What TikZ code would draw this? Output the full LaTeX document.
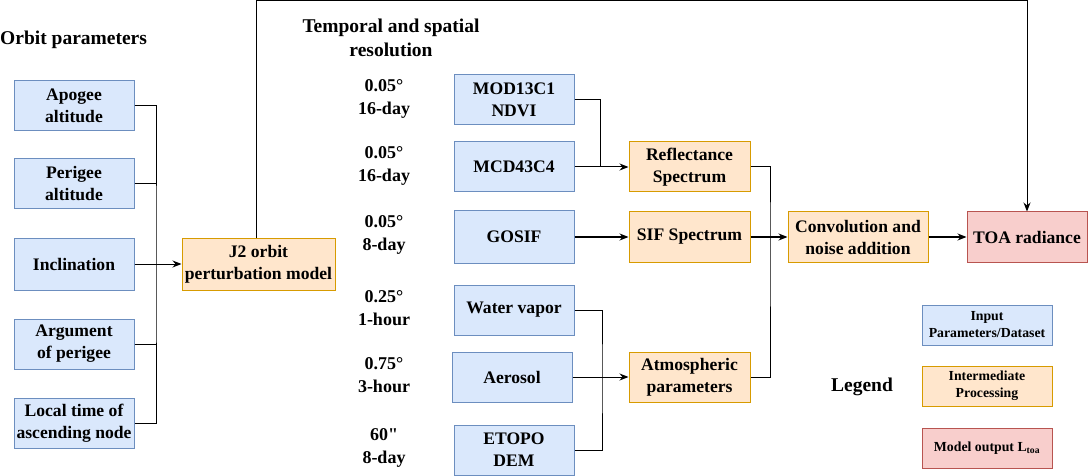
\documentclass[tikz,border=0pt]{standalone}
\usepackage{fontspec}
\setmainfont{Liberation Serif}[BoldFont={Liberation Serif Bold}]
\usetikzlibrary{arrows.meta,positioning}

\definecolor{inFill}{HTML}{DAE8FC}
\definecolor{inLine}{HTML}{6C8EBF}
\definecolor{midFill}{HTML}{FFE6CC}
\definecolor{midLine}{HTML}{D79B00}
\definecolor{outFill}{HTML}{F8CECC}
\definecolor{outLine}{HTML}{B85450}

\tikzset{
  base/.style={rectangle, draw, line width=1pt, align=center, inner sep=0pt,
               font=\rmfamily\bfseries\fontsize{17.6}{22}\selectfont},
  inbox/.style={base, fill=inFill, draw=inLine, minimum width=120pt, minimum height=50pt},
  midbox/.style={base, fill=midFill, draw=midLine, minimum height=50pt},
  outbox/.style={base, fill=outFill, draw=outLine, minimum height=50pt},
  reso/.style={align=center, font=\rmfamily\bfseries\fontsize{18}{23}\selectfont},
  heading/.style={inner sep=0pt, align=center, font=\rmfamily\bfseries\fontsize{19.5}{24}\selectfont},
  legbox/.style={rectangle, draw, line width=1pt, align=center, inner sep=0pt,
                 minimum width=130pt, minimum height=40pt,
                 font=\rmfamily\bfseries\fontsize{13.8}{17}\selectfont},
  link/.style={draw=black, line width=1pt},
  go/.style={link, -{Stealth[length=9pt,width=7pt]}}
}

\begin{document}
\begin{tikzpicture}[x=1pt, y=-1pt]
  \useasboundingbox (0,0) rectangle (1088,476);

  % orbit parameters
  \node [heading, anchor=west] (otitle) at (0,40) {Orbit parameters};
  \node [inbox] (apo)  at (74,106) {Apogee\\altitude};
  \node [inbox] (peri) at (74,184) {Perigee\\altitude};
  \node [inbox, minimum height=52pt] (incl) at (74,264) {Inclination};
  \node [inbox] (arg)  at (74,344) {Argument\\of perigee};
  \node [inbox] (loc)  at (74,423) {Local time of\\ascending node};
  \node [midbox, minimum width=153pt, minimum height=52pt] (jtwo) at (258.5,264) {J2 orbit\\perturbation model};

  \coordinate (bus) at (156,264);
  \draw [link] (apo.east) -| (bus) |- (loc.east);
  \draw [link] (peri.east) -- (peri.east -| bus);
  \draw [link] (arg.east) -- (arg.east -| bus);
  \draw [go] (incl.east) -- (jtwo.west);

  % datasets
  \node [heading] (ttitle) at (391,38) {Temporal and spatial\\resolution};
  \node [reso] (r1) at (384,99)  {0.05°\\16-day};
  \node [reso] (r2) at (384,166) {0.05°\\16-day};
  \node [reso] (r3) at (384,235) {0.05°\\8-day};
  \node [reso] (r4) at (384,308) {0.25°\\1-hour};
  \node [reso] (r5) at (384,375) {0.75°\\3-hour};
  \node [reso] (r6) at (384,448) {60\textquotedbl\\8-day};

  \node [inbox] (mod)  at (514,100) {MOD13C1\\NDVI};
  \node [inbox] (mcd)  at (514,167) {MCD43C4};
  \node [inbox, minimum height=52pt] (gosif) at (514,237) {GOSIF};
  \node [inbox] (wv)   at (514,310) {Water vapor};
  \node [inbox] (aer)  at (512,377) {Aerosol};
  \node [inbox] (eto)  at (514,450) {ETOPO\\DEM};

  \node [midbox, minimum width=121pt] (refl) at (689.5,167) {Reflectance\\Spectrum};
  \node [midbox, minimum width=121pt] (sif)  at (689.5,237) {SIF Spectrum};
  \node [midbox, minimum width=121pt] (atm)  at (689.5,377) {Atmospheric\\parameters};

  \coordinate (ja) at (600,167);
  \coordinate (jb) at (602,377);
  \draw [link] (mod.east) -| (ja);
  \draw [go] (mcd.east) -- (refl.west);
  \draw [go] (gosif.east) -- (sif.west);
  \draw [link] (wv.east) -| (jb) |- (eto.east);
  \draw [go] (aer.east) -- (atm.west);

  % outputs
  \node [midbox, minimum width=140pt] (conv) at (858,237) {Convolution and\\noise addition};
  \node [outbox, minimum width=120pt] (toa) at (1027,237) {TOA radiance};

  \coordinate (jc) at (770,237);
  \draw [link] (refl.east) -| (jc) |- (atm.east);
  \draw [go] (sif.east) -- (conv.west);
  \draw [go] (conv.east) -- (toa.west);
  \coordinate (top) at (256,1);
  \draw [go] (jtwo.north -| top) -- (top) -| (toa.north);

  % legend
  \node [heading] (leg) at (862,387) {Legend};
  \node [legbox, fill=inFill, draw=inLine]   (lin)  at (987,325) {Input\\Parameters/Dataset};
  \node [legbox, fill=midFill, draw=midLine] (lmid) at (987,386) {Intermediate\\Processing};
  \node [legbox, fill=outFill, draw=outLine] (lout) at (987,448) {Model output L\textsubscript{toa}};
\end{tikzpicture}
\end{document}
